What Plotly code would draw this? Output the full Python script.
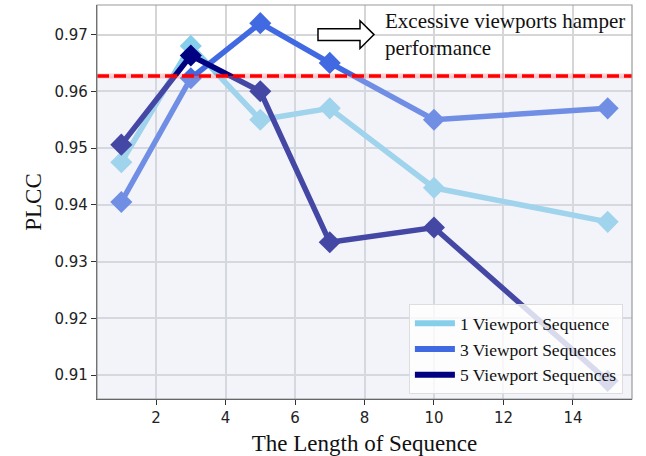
import plotly.graph_objects as go

# ---- data ----
lengths = [1, 3, 5, 7, 10, 15]
plcc_1vp = [0.9475, 0.968, 0.955, 0.957, 0.943, 0.937]
plcc_3vp = [0.9405, 0.9623, 0.972, 0.965, 0.955, 0.957]
plcc_5vp = [0.9506, 0.9663, 0.960, 0.9334, 0.9360, 0.909]
series_names = ["1 Viewport Sequence", "3 Viewport Sequences", "5 Viewport Sequences"]
series_values = [plcc_1vp, plcc_3vp, plcc_5vp]
series_colors = ["#87CEEB", "#4169E1", "#000080"]
threshold = 0.9627
x_ticks = [2, 4, 6, 8, 10, 12, 14]
y_ticks = [0.91, 0.92, 0.93, 0.94, 0.95, 0.96, 0.97]
x_range = [0.3, 15.7]
y_range = [0.9058, 0.9752]
annotation_text = "Excessive viewports hamper<br>performance"

SERIF = "Liberation Serif, Times New Roman, serif"
SANS = "DejaVu Sans, sans-serif"

fig = go.Figure()

for name, vals, col in zip(series_names, series_values, series_colors):
    fig.add_trace(go.Scatter(
        x=lengths, y=vals, mode="lines+markers", name=name,
        line=dict(color=col, width=5.5),
        marker=dict(symbol="diamond", size=17, color=col),
        showlegend=False,
    ))
# legend-only entries (line swatches only)
for name, col in zip(series_names, series_colors):
    fig.add_trace(go.Scatter(
        x=[None], y=[None], mode="lines", name=name,
        line=dict(color=col, width=6), showlegend=True,
    ))

shapes = [
    # shaded region under threshold (drawn over the lines, tinting them)
    dict(type="rect", xref="paper", yref="y", x0=0, x1=1,
         y0=y_range[0], y1=threshold, layer="above",
         fillcolor="rgba(214,220,240,0.32)", line=dict(width=0)),
    # soft red underline
    dict(type="line", xref="paper", yref="y", x0=0, x1=1,
         y0=threshold, y1=threshold, layer="above",
         line=dict(color="rgba(255,0,0,0.18)", width=5)),
    # red dashed threshold line
    dict(type="line", xref="paper", yref="y", x0=0, x1=1,
         y0=threshold, y1=threshold, layer="above",
         line=dict(color="#FF0000", width=3.5, dash="12px,5px")),
    # frame top/right in grey
    dict(type="rect", xref="paper", yref="paper", x0=0, x1=1, y0=0, y1=1,
         layer="above", line=dict(color="#9a9a9a", width=1.2),
         fillcolor="rgba(0,0,0,0)"),
]

# hollow block arrow (paper coords of the plot area)
def P(px, py):
    return ((px - 97) / 535.0, (404 - py) / 399.0)

pts = [P(318, 29), P(360, 29), P(360, 21), P(374, 35), P(360, 49), P(360, 41), P(318, 41)]
path = "M " + " L ".join(f"{a:.5f},{b:.5f}" for a, b in pts) + " Z"
shapes.append(dict(type="path", xref="paper", yref="paper", path=path,
                   line=dict(color="black", width=1.5), fillcolor="white", layer="above"))

fig.update_layout(
    width=646, height=456,
    margin=dict(l=97, r=14, t=5, b=52),
    paper_bgcolor="white", plot_bgcolor="white",
    shapes=shapes,
    showlegend=True,
    legend=dict(
        x=0.983, y=0.012, xanchor="right", yanchor="bottom",
        bgcolor="rgba(255,255,255,0.8)", bordercolor="#dddddd", borderwidth=1,
        font=dict(family=SERIF, size=17.5, color="#111"),
        itemwidth=40, tracegroupgap=0,
    ),
    annotations=[dict(
        xref="paper", yref="paper", x=(383 - 97) / 535.0, y=(404 - 7) / 399.0,
        xanchor="left", yanchor="top", align="left", showarrow=False,
        text=annotation_text,
        font=dict(family=SERIF, size=21, color="#111"),
    )],
)

fig.update_xaxes(
    range=x_range, tickvals=x_ticks, ticktext=[str(t) for t in x_ticks],
    showgrid=True, gridcolor="#d6d6d9", gridwidth=1.5, zeroline=False,
    showline=True, linecolor="#333", linewidth=1.2,
    ticks="outside", ticklen=5, tickcolor="#333", tickwidth=1.2,
    tickfont=dict(family=SANS, size=15, color="#222"),
    title=dict(text="The Length of Sequence", font=dict(family=SERIF, size=23, color="#111"),
               standoff=8),
)
fig.update_yaxes(
    range=y_range, tickvals=y_ticks, ticktext=[f"{t:.2f}" for t in y_ticks],
    showgrid=True, gridcolor="#d6d6d9", gridwidth=1.5, zeroline=False,
    showline=True, linecolor="#333", linewidth=1.2,
    ticks="outside", ticklen=5, tickcolor="#333", tickwidth=1.2,
    tickfont=dict(family=SANS, size=15, color="#222"),
    title=dict(text="PLCC", font=dict(family=SERIF, size=23, color="#111"), standoff=6),
)

fig.write_html("out.html")
